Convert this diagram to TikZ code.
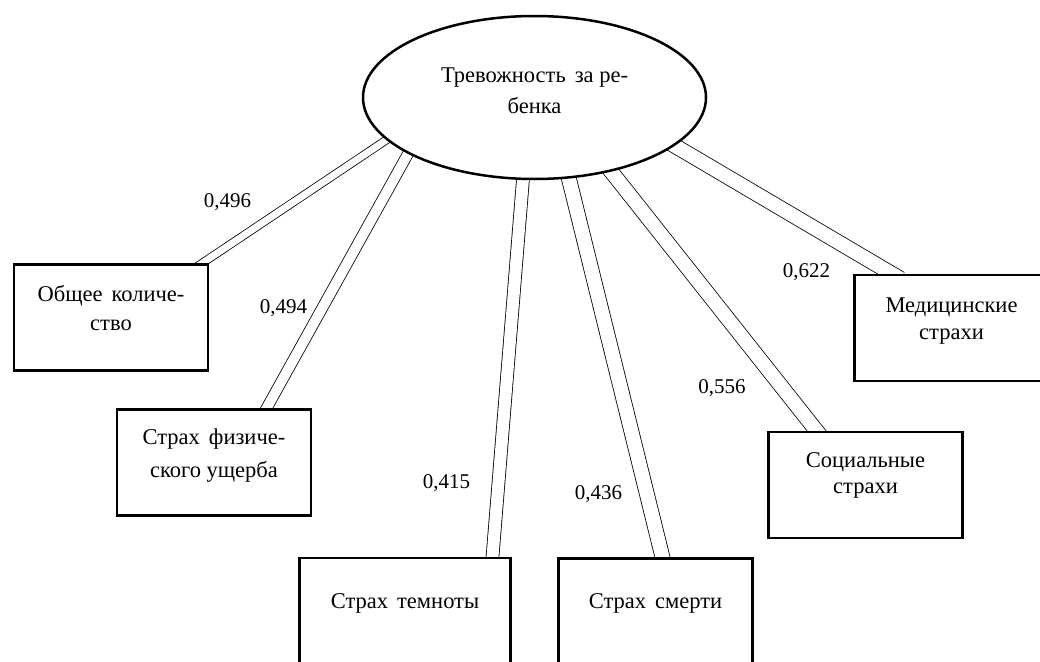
\documentclass[tikz,border=0pt]{standalone}
\usepackage{fontspec}
\setmainfont{Liberation Serif}
\usetikzlibrary{shapes.geometric,backgrounds}
\newcommand{\wsp}{\hspace{9pt}}
\begin{document}
\begin{tikzpicture}[x=1pt,y=-1pt,
  box/.style={draw, line width=2.4pt, fill=white, minimum width=194pt, minimum height=106pt,
    inner sep=0pt, align=center},
  txt/.style={font=\fontsize{22.5}{#1}\selectfont},
  num/.style={anchor=base, inner sep=0pt, font=\fontsize{21}{25}\selectfont},
  conn/.style={draw, line width=0.8pt, double=white, double distance=#1,
    shorten <=-10pt, shorten >=-10pt}]
\useasboundingbox (0,0) rectangle (1040,661);
\clip (0,0) rectangle (1040,661);

% central ellipse
\node[ellipse, draw, line width=2.5pt, fill=white, minimum width=343pt, minimum height=163pt,
  inner sep=0pt, align=center, txt=31, text height=46pt, text depth=15pt]
  (E) at (534.5,97.5) {Тревожность\wsp за ре-\\бенка};

% boxes
\node[box, txt=29, text height=44pt, text depth=19pt] (b1) at (111,317.5) {Общее\wsp количе-\\ство};
\node[box, txt=33, text height=48pt, text depth=19pt] (b2) at (214,462.5) {Страх\wsp физиче-\\ского ущерба};
\node[box, txt=29, minimum width=211pt, text height=15pt, text depth=21pt] (b3) at (405,611) {Страх\wsp темноты};
\node[box, txt=29, text height=15pt, text depth=21pt] (b4) at (655.5,611.5) {Страх\wsp смерти};
\node[box, txt=26, text height=41pt, text depth=25pt] (b5) at (865.5,485) {Социальные\\страхи};
\node[box, txt=27, text height=42pt, text depth=20pt] (b6) at (951.5,328) {Медицинские\\страхи};

% connectors
\begin{scope}[on background layer]
\draw[conn=7pt]  (E.-164.8) -- ([xshift=91pt]b1.north);
\draw[conn=10pt] (E.-156.6) -- ([xshift=52.5pt]b2.north);
\draw[conn=12pt] (E.-98.6)  -- ([xshift=87.5pt]b3.north);
\draw[conn=14pt] (E.-67.7)  -- ([xshift=7pt]b4.north);
\draw[conn=14pt] (E.-44.2)  -- ([xshift=-49pt]b5.north);
\draw[conn=14pt] (E.-19.3)  -- ([xshift=-59.5pt]b6.north);
\end{scope}

% coefficients
\node[num] (n1) at (227.5,207) {0,496};
\node[num] (n2) at (283.5,313) {0,494};
\node[num] (n3) at (446.5,488) {0,415};
\node[num] (n4) at (598.5,499) {0,436};
\node[num] (n5) at (722,393)   {0,556};
\node[num] (n6) at (806.5,277) {0,622};
\end{tikzpicture}
\end{document}
